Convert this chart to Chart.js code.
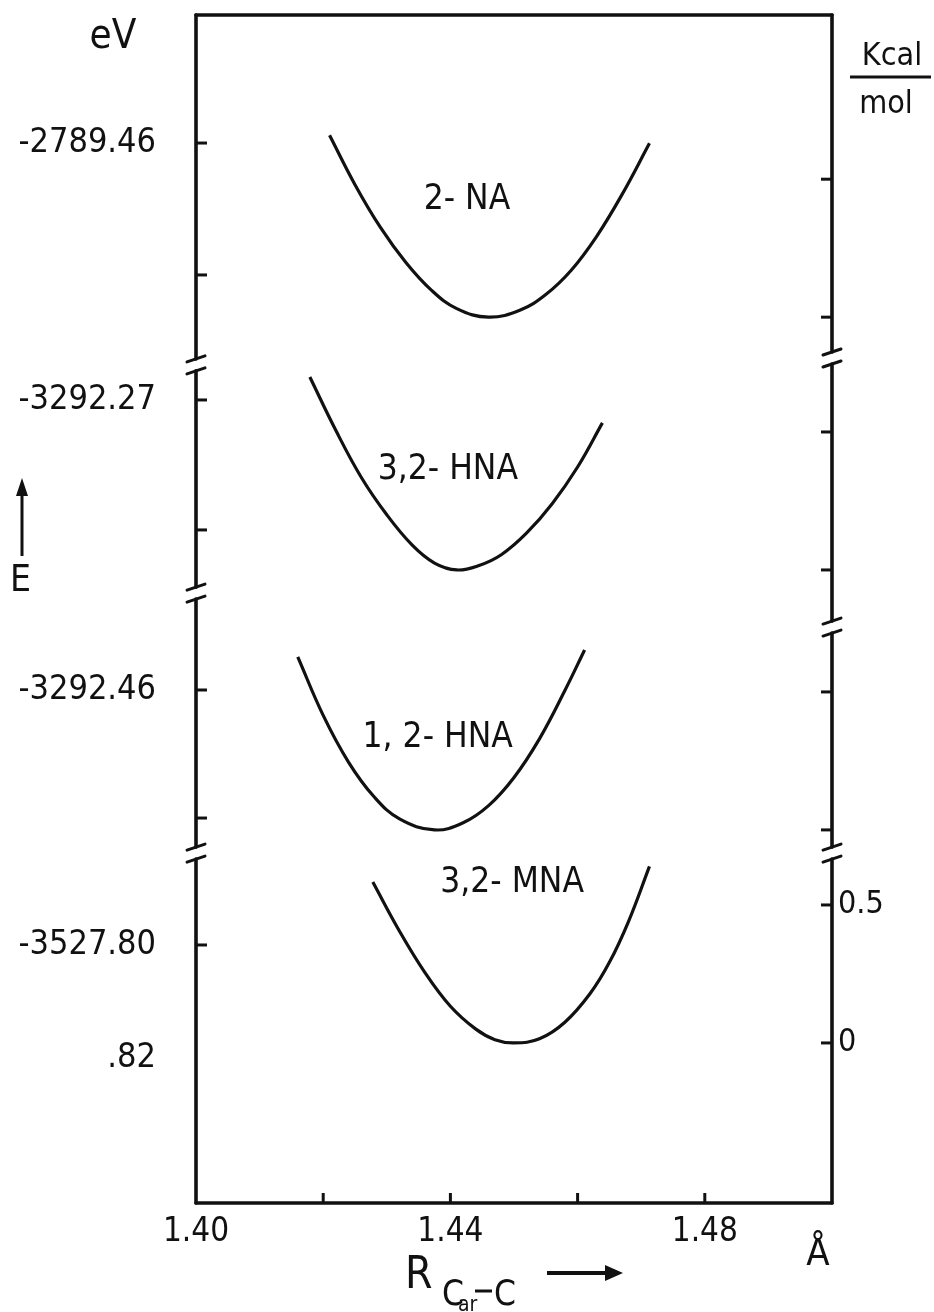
<!DOCTYPE html>
<html><head><meta charset="utf-8">
<script src="https://cdn.jsdelivr.net/npm/chart.js@4.4.1/dist/chart.umd.min.js"></script>
<style>html,body{margin:0;padding:0;background:#fff;overflow:hidden}canvas{display:block}</style>
</head><body>
<canvas id="c" width="934" height="1312"></canvas>
<script>
const FONT = '"DejaVu Sans Condensed","DejaVu Sans",sans-serif';
const INK = '#111';

// ---- x axis (bond length, Å)
const xTickValues = [1.40, 1.42, 1.44, 1.46, 1.48, 1.50];
const xTickLabels = ['1.40', '', '1.44', '', '1.48', ''];

// ---- curves: bond length (Å) and energy above the minimum (kcal/mol)
const curveLabels = ['2- NA', '3,2- HNA', '1, 2- HNA', '3,2- MNA'];
const panelBase = [2.630, 1.714, 0.772, 0];      // where each panel's 0 kcal/mol sits on the shared axis

const rNA   = [1.4210, 1.4250, 1.4290, 1.4330, 1.4370, 1.4410, 1.4460, 1.4510, 1.4550, 1.4590, 1.4630, 1.4670, 1.4713];
const eNA   = [0.659, 0.480, 0.325, 0.198, 0.098, 0.031, 0, 0.026, 0.082, 0.170, 0.293, 0.445, 0.630];

const r32HNA = [1.4179, 1.4220, 1.4260, 1.4300, 1.4340, 1.4375, 1.4410, 1.4445, 1.4480, 1.4520, 1.4560, 1.4600, 1.4639];
const e32HNA = [0.699, 0.505, 0.335, 0.200, 0.090, 0.025, 0, 0.016, 0.055, 0.134, 0.240, 0.373, 0.533];

const r12HNA = [1.4160, 1.4200, 1.4240, 1.4280, 1.4320, 1.4375, 1.4420, 1.4460, 1.4500, 1.4540, 1.4580, 1.4611];
const e12HNA = [0.627, 0.415, 0.245, 0.120, 0.040, 0, 0.026, 0.088, 0.190, 0.330, 0.505, 0.652];

const r32MNA = [1.4278, 1.4320, 1.4360, 1.4400, 1.4440, 1.4470, 1.4500, 1.4540, 1.4580, 1.4620, 1.4650, 1.4680, 1.4713];
const e32MNA = [0.583, 0.405, 0.255, 0.133, 0.050, 0.012, 0, 0.015, 0.075, 0.180, 0.292, 0.440, 0.640];

const labelR = [1.4426, 1.4396, 1.4380, 1.4497];
const labelE = [0.424, 0.362, 0.333, 0.580];

// ---- y axes (shared scale, kcal/mol)
const yMin = -0.580, yMax = 3.725;
const leftTickValues = [3.261, 2.783, 2.330, 1.859, 1.279, 0.815, 0.355, -0.054];
const leftTickLabels = ['-2789.46', '', '-3292.27', '', '-3292.46', '', '-3527.80', '.82'];
const leftMarkValues = [3.261, 2.783, 2.330, 1.859, 1.279, 0.815, 0.355];
const rightTickValues = [3.130, 2.630, 2.214, 1.714, 1.272, 0.772, 0.5, 0];
const rightTickLabels = ['', '', '', '', '', '', '0.5', '0'];
const leftBreaks = [2.457, 1.630, 0.688];
const rightBreaks = [2.482, 1.507, 0.688];

const curves = [[rNA, eNA], [r32HNA, e32HNA], [r12HNA, e12HNA], [r32MNA, e32MNA]];
const datasets = curves.map(([r, e], i) => ({
  label: curveLabels[i],
  data: r.map((v, j) => ({ x: v, y: e[j] + panelBase[i] })),
  showLine: true, borderColor: INK, borderWidth: 3.2, pointRadius: 0,
  tension: 0.4, fill: false
}));

function setTicks(vals) { return s => { s.ticks = vals.map(v => ({ value: v })); }; }
function noPad(s) { s.paddingTop = 0; s.paddingBottom = 0; s.paddingLeft = 0; s.paddingRight = 0; }

const framePlugin = {
  id: 'frame',
  afterDraw(chart) {
    const { ctx, chartArea: a, scales } = chart;
    const y = scales.y, x = scales.x;
    ctx.save();
    ctx.strokeStyle = INK; ctx.fillStyle = INK; ctx.lineCap = 'round';
    const ln = (x1, y1, x2, y2) => { ctx.beginPath(); ctx.moveTo(x1, y1); ctx.lineTo(x2, y2); ctx.stroke(); };
    ctx.lineWidth = 3.6;
    ln(a.left, a.top, a.right, a.top);
    ln(a.left, a.bottom, a.right, a.bottom);
    const side = (xp, brks) => {
      const ps = brks.map(v => y.getPixelForValue(v)).sort((p, q) => p - q);
      let start = a.top;
      const g = 6;
      ps.forEach(p => {
        ctx.lineWidth = 3.6; ln(xp, start, xp, p - g);
        ctx.lineWidth = 3; ln(xp - 9, p - g + 3, xp + 9, p - g - 3);
        ln(xp - 9, p + g + 3, xp + 9, p + g - 3);
        start = p + g;
      });
      ctx.lineWidth = 3.6; ln(xp, start, xp, a.bottom);
    };
    side(a.left, leftBreaks);
    side(a.right, rightBreaks);
    ctx.lineWidth = 3; ctx.lineCap = 'butt';
    leftMarkValues.forEach(v => { const p = y.getPixelForValue(v); ln(a.left, p, a.left + 11, p); });
    rightTickValues.forEach(v => { const p = y.getPixelForValue(v); ln(a.right, p, a.right - 11, p); });
    xTickValues.slice(1, 5).forEach(v => { const p = x.getPixelForValue(v); ln(p, a.bottom, p, a.bottom - 10); });

    // curve labels
    ctx.textAlign = 'center'; ctx.textBaseline = 'middle';
    ctx.font = '35px ' + FONT;
    curveLabels.forEach((t, i) => {
      ctx.fillText(t, x.getPixelForValue(labelR[i]), y.getPixelForValue(labelE[i] + panelBase[i]));
    });

    // left title
    ctx.font = '40px ' + FONT; ctx.textAlign = 'center'; ctx.textBaseline = 'alphabetic';
    ctx.fillText('eV', 113, 48);
    ctx.font = '37px ' + FONT; ctx.textAlign = 'left';
    ctx.fillText('E', 10, 591);
    ctx.lineWidth = 3; ln(22, 556, 22, 492);
    ctx.beginPath(); ctx.moveTo(22, 478); ctx.lineTo(16, 496); ctx.lineTo(28, 496); ctx.closePath(); ctx.fill();

    // right title
    ctx.font = '32px ' + FONT; ctx.textAlign = 'center';
    ctx.fillText('Kcal', 892, 65);
    ln(850, 77, 931, 77);
    ctx.fillText('mol', 886, 113);

    // x title
    ctx.textAlign = 'left';
    ctx.font = '44px ' + FONT; ctx.fillText('R', 405, 1288);
    ctx.font = '35px ' + FONT; ctx.fillText('C', 442, 1305);
    ctx.font = '21px ' + FONT; ctx.fillText('ar', 458, 1311);
    ctx.lineWidth = 3; ln(475, 1291, 492, 1291);
    ctx.font = '35px ' + FONT; ctx.fillText('C', 494, 1305);
    ctx.lineWidth = 4; ln(547, 1273, 608, 1273);
    ctx.beginPath(); ctx.moveTo(623, 1273); ctx.lineTo(605, 1265); ctx.lineTo(605, 1281); ctx.closePath(); ctx.fill();
    ctx.font = '38px ' + FONT; ctx.textAlign = 'center';
    ctx.fillText('Å', 818, 1265);
    ctx.restore();
  }
};

new Chart(document.getElementById('c'), {
  type: 'scatter',
  data: { datasets },
  options: {
    responsive: false, animation: false, devicePixelRatio: 1,
    layout: { padding: { top: 15, left: 0, right: 0, bottom: 0 } },
    plugins: { legend: { display: false }, tooltip: { enabled: false } },
    scales: {
      x: {
        type: 'linear', position: 'bottom', min: 1.40, max: 1.50,
        afterBuildTicks: setTicks(xTickValues),
        afterFit: s => { s.height = 109; noPad(s); },
        grid: { display: false, drawTicks: false }, border: { display: false },
        ticks: { autoSkip: false, maxRotation: 0, padding: 10, color: INK,
          font: { family: FONT, size: 33 }, callback: (v, i) => xTickLabels[i] }
      },
      y: {
        type: 'linear', position: 'left', min: yMin, max: yMax,
        afterBuildTicks: setTicks(leftTickValues),
        afterFit: s => { s.width = 196; noPad(s); },
        grid: { display: false, drawTicks: false }, border: { display: false },
        ticks: { autoSkip: false, padding: 40, color: INK,
          font: { family: FONT, size: 34 }, callback: (v, i) => leftTickLabels[i] }
      },
      y2: {
        type: 'linear', position: 'right', min: yMin, max: yMax,
        afterBuildTicks: setTicks(rightTickValues),
        afterFit: s => { s.width = 102; noPad(s); },
        grid: { display: false, drawTicks: false }, border: { display: false },
        ticks: { autoSkip: false, padding: 6, color: INK,
          font: { family: FONT, size: 32 }, callback: (v, i) => rightTickLabels[i] }
      }
    }
  },
  plugins: [framePlugin]
});
</script>
</body></html>
